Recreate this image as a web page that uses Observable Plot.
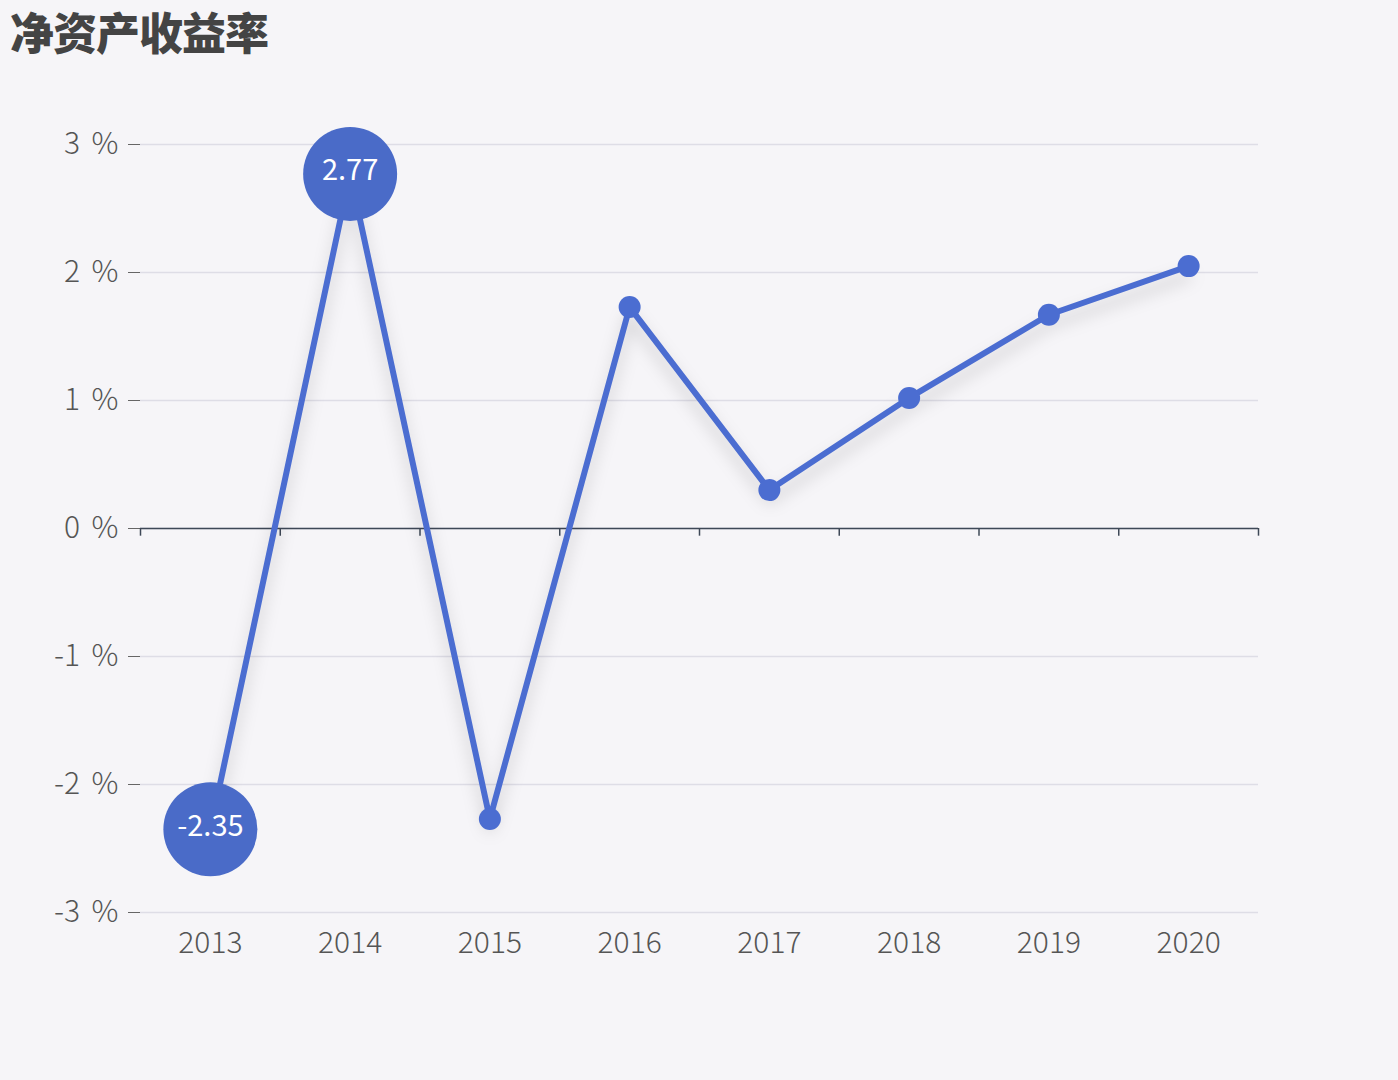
<!DOCTYPE html>
<html>
<head>
<meta charset="utf-8">
<script src="https://cdn.jsdelivr.net/npm/d3@7"></script>
<script src="https://cdn.jsdelivr.net/npm/@observablehq/plot@0.6"></script>
<style>
  html, body { margin: 0; padding: 0; background: #f6f5f8; }
  #title { height: 60px; padding-left: 10px; font-family: "Noto Sans CJK SC", sans-serif; font-weight: 900; font-size: 44px; line-height: 62px; color: #444; letter-spacing: -1px; }
  #chart svg { display: block; }
  g[aria-label="line"] { filter: drop-shadow(0px 10px 8px rgba(0,0,0,0.18)); }
</style>
</head>
<body>
<div id="title">净资产收益率</div>
<div id="chart"></div>
<script>
const years = ["2013", "2014", "2015", "2016", "2017", "2018", "2019", "2020"];
const roe = [-2.35, 2.77, -2.27, 1.73, 0.30, 1.02, 1.67, 2.05];
const highlighted = ["2013", "2014"];
const yTicks = [-3, -2, -1, 0, 1, 2, 3];

const data = years.map((y, i) => ({year: y, value: roe[i]}));
const big = data.filter(d => highlighted.includes(d.year));
const small = data.filter(d => !highlighted.includes(d.year));

const W = 1398, H = 1020, mL = 140, mR = 140, mT = 84, mB = 168;
const bw = (W - mL - mR) / years.length;
const blue = "#4b6dd1";
const bigBlue = "#4a6bc8";
const font = "'Noto Sans CJK SC', 'Noto Sans', sans-serif";

const chart = Plot.plot({
  width: W,
  height: H,
  marginLeft: mL,
  marginRight: mR,
  marginTop: mT,
  marginBottom: mB,
  style: {background: "#f6f5f8", fontFamily: font, fontSize: "30px", color: "#555", overflow: "visible"},
  x: {type: "band", domain: years, padding: 0, round: false, label: null},
  y: {domain: [-3, 3], label: null},
  marks: [
    Plot.gridY(yTicks, {stroke: "#dedde6", strokeOpacity: 1, strokeWidth: 1.5}),
    Plot.axisY(yTicks, {tickSize: 12, tickPadding: 10, tickFormat: d => `${d} \u2006%`, stroke: "#666", fontSize: 30, fontWeight: 300, fill: "#555", label: null}),
    Plot.axisX({tickSize: 0, tickPadding: 19, fontSize: 30, fontWeight: 300, fill: "#555", label: null}),
    Plot.ruleY([0], {stroke: "#3e4857", strokeWidth: 1.5}),
    Plot.ruleX(years, {x: d => d, y1: 0, y2: -0.06, stroke: "#3e4857", strokeWidth: 1.5, dx: -bw / 2}),
    Plot.ruleX([years[years.length - 1]], {x: d => d, y1: 0, y2: -0.06, stroke: "#3e4857", strokeWidth: 1.5, dx: bw / 2}),
    Plot.line(data, {x: "year", y: "value", stroke: blue, strokeWidth: 6, curve: "linear"}),
    Plot.dot(small, {x: "year", y: "value", r: 11, fill: blue, stroke: "none"}),
    Plot.dot(big, {x: "year", y: "value", r: 47, fill: bigBlue, stroke: "none"}),
    Plot.text(big, {x: "year", y: "value", text: d => d.value.toFixed(2), fill: "white", fontSize: 29, dy: -3})
  ]
});
document.getElementById("chart").appendChild(chart);
</script>
</body>
</html>
